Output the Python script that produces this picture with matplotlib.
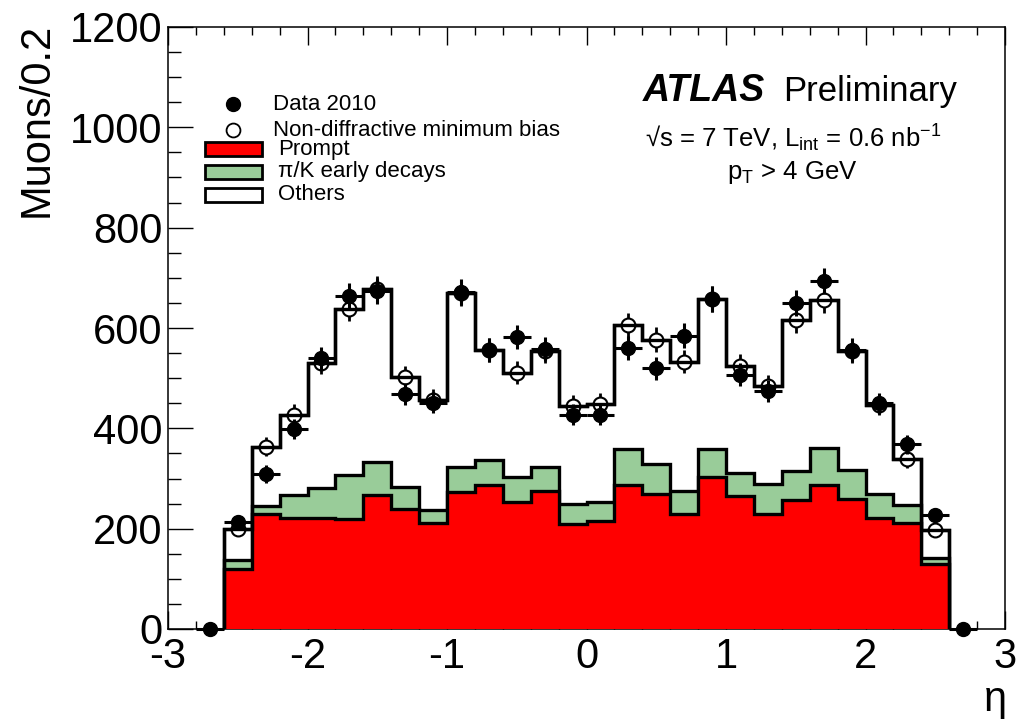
import matplotlib
matplotlib.use("Agg")
import matplotlib.pyplot as plt
from matplotlib.lines import Line2D
from matplotlib.patches import Rectangle
from matplotlib.ticker import MultipleLocator, FormatStrFormatter
import numpy as np

plt.rcParams["font.family"] = ["Liberation Sans", "DejaVu Sans"]
plt.rcParams["mathtext.fontset"] = "custom"
plt.rcParams["mathtext.rm"] = "Liberation Sans"
plt.rcParams["mathtext.it"] = "Liberation Sans:italic"
plt.rcParams["axes.unicode_minus"] = False

# --- data ---
eta_edges = np.linspace(-2.6, 2.6, 27)          # 26 bins of 0.2
eta_centers = (eta_edges[:-1] + eta_edges[1:]) / 2

prompt = [120, 229, 221, 222, 220, 267, 240, 211, 273, 287, 253, 275, 209,
          215, 287, 270, 230, 303, 265, 230, 258, 288, 260, 221, 211, 129]
pik_decays = [17, 16, 47, 59, 87, 66, 43, 27, 49, 50, 50, 48, 41,
              38, 72, 59, 45, 56, 46, 60, 57, 73, 57, 49, 37, 12]
others = [63, 118, 159, 250, 331, 345, 219, 219, 348, 220, 208, 232, 195,
          196, 246, 248, 258, 298, 214, 195, 300, 294, 238, 177, 90, 57]

mc_err = [14, 19, 21, 23, 25, 26, 22, 21, 26, 24, 23, 24, 21,
          21, 25, 24, 23, 26, 23, 22, 25, 26, 24, 21, 18, 14]

data_x = [-2.7, -2.5, -2.3, -2.1, -1.9, -1.7, -1.5, -1.3, -1.1, -0.9, -0.7,
          -0.5, -0.3, -0.1, 0.1, 0.3, 0.5, 0.7, 0.9, 1.1, 1.3, 1.5, 1.7,
          1.9, 2.1, 2.3, 2.5, 2.7]
data_y = [0, 213, 309, 399, 540, 663, 673, 469, 451, 671, 556, 582, 558, 427,
          427, 560, 520, 585, 658, 507, 475, 650, 693, 557, 450, 368, 227, 0]
data_err = [0, 15, 18, 20, 23, 26, 26, 22, 21, 26, 24, 24, 24, 21,
            21, 24, 23, 24, 26, 23, 22, 26, 26, 24, 21, 19, 15, 0]

RED = "#ff0000"
GREEN = "#99cc99"
W, H = 1023, 719


def fx(px):
    return px / W


def fy(py):
    return 1 - py / H


prompt = np.array(prompt)
green_top = prompt + np.array(pik_decays)
total = green_top + np.array(others)

fig = plt.figure(figsize=(W / 100, H / 100), dpi=100)
ax = fig.add_axes([fx(168), fy(629), (1005 - 168) / W, (629 - 27) / H])

lw = 2.4
ax.stairs(total, eta_edges, fill=True, facecolor="white", edgecolor="k", lw=lw, zorder=1)
ax.stairs(green_top, eta_edges, fill=True, facecolor=GREEN, edgecolor="k", lw=lw, zorder=2)
ax.stairs(prompt, eta_edges, fill=True, facecolor=RED, edgecolor="k", lw=lw, zorder=3)

# MC (open circles)
ax.errorbar(eta_centers, total, yerr=mc_err, fmt="none", ecolor="k", elinewidth=2.0, zorder=4)
ax.plot(eta_centers, total, "o", ms=10, mfc="white", mec="k", mew=1.5, zorder=5)
ax.stairs(total, eta_edges, color="k", lw=lw, zorder=6)

# data
ax.errorbar(data_x, data_y, xerr=0.1, yerr=data_err, fmt="o", color="k", ms=10,
            elinewidth=2.2, capsize=0, zorder=7, clip_on=False)

ax.set_xlim(-3, 3)
ax.set_ylim(0, 1200)
ax.xaxis.set_major_locator(MultipleLocator(1))
ax.xaxis.set_minor_locator(MultipleLocator(0.2))
ax.yaxis.set_major_locator(MultipleLocator(200))
ax.yaxis.set_minor_locator(MultipleLocator(50))
ax.xaxis.set_major_formatter(FormatStrFormatter("%d"))
ax.yaxis.set_major_formatter(FormatStrFormatter("%d"))
ax.tick_params(axis="x", which="major", direction="in", length=13, width=1.0,
               top=True, labelsize=30, pad=6)
ax.tick_params(axis="x", which="minor", direction="in", length=6, width=1.0, top=True)
ax.tick_params(axis="y", which="major", direction="in", length=18, width=1.0,
               right=False, labelsize=30, pad=4)
ax.tick_params(axis="y", which="minor", direction="in", length=9, width=1.0, right=False)
for s in ax.spines.values():
    s.set_linewidth(1.1)

# axis titles
fig.text(fx(37), fy(23), "Muons/0.2", rotation=90, ha="center", va="top", fontsize=30)
fig.text(fx(1007), fy(700), "η", ha="right", va="center", fontsize=30)

# legend
fs = 16
fig.add_artist(Line2D([fx(233)], [fy(104)], marker="o", ms=10, color="k",
                      transform=fig.transFigure))
fig.add_artist(Line2D([fx(233)], [fy(130)], marker="o", ms=10, mfc="white", mec="k",
                      mew=1.3, transform=fig.transFigure))
fig.text(fx(273), fy(104), "Data 2010", fontsize=fs, va="center")
fig.text(fx(273), fy(130), "Non-diffractive minimum bias", fontsize=fs, va="center")
for yc, col, lab in [(149, RED, "Prompt"), (172, GREEN, "π/K early decays"),
                     (195, "white", "Others")]:
    fig.add_artist(Rectangle((fx(205), fy(yc + 7)), 57 / W, 14 / H, facecolor=col,
                             edgecolor="k", lw=2.0, transform=fig.transFigure))
    fig.text(fx(278), fy(yc), lab, fontsize=fs, va="center")

# ATLAS label
fig.text(fx(643), fy(91), "ATLAS", fontsize=27, fontweight="bold", style="italic",
         va="center")
fig.text(fx(783), fy(91), "Preliminary", fontsize=25, va="center")
fig.text(fx(793), fy(138), "√s = 7 TeV, L$_{\\mathrm{int}}$ = 0.6 nb$^{-1}$",
         fontsize=18.5, ha="center", va="center")
fig.text(fx(792), fy(173), "p$_{\\mathrm{T}}$ > 4 GeV", fontsize=18.5,
         ha="center", va="center")

fig.savefig("out.png", dpi=100)
